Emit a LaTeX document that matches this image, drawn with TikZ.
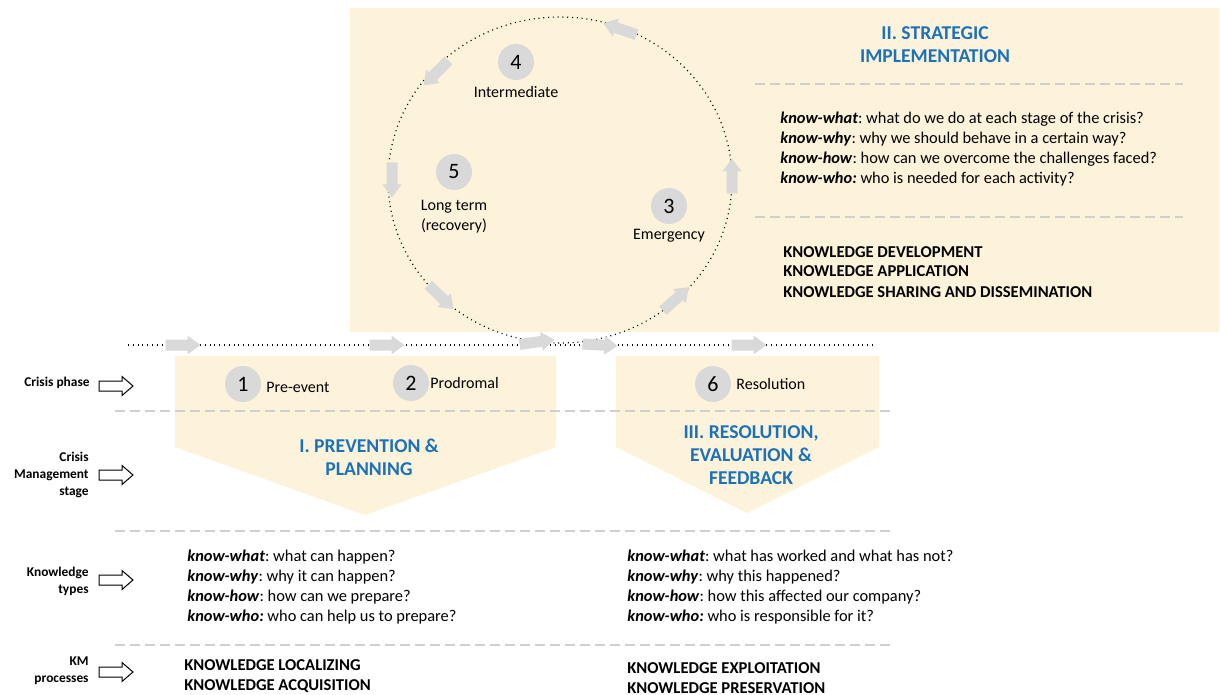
\documentclass[tikz,border=0pt]{standalone}
\usepackage{fontspec}
\setmainfont{Carlito}
\frenchspacing
\definecolor{beige}{HTML}{FDF3DA}
\definecolor{cgray}{HTML}{D9D9D9}
\definecolor{agray}{HTML}{D9D9D9}
\definecolor{dgray}{HTML}{CFCFCF}
\definecolor{tblue}{HTML}{1B72BA}
\tikzset{
  num/.style={circle, fill=cgray, minimum size=18pt, inner sep=0pt, font=\fontsize{11}{12}\selectfont},
  plbl/.style={anchor=west, inner sep=0pt, font=\fontsize{8}{10}\selectfont},
  clbl/.style={align=center, inner sep=0pt, font=\fontsize{8}{10}\selectfont},
  body/.style={anchor=base west, inner sep=0pt, font=\fontsize{8.2}{10}\selectfont},
  caps/.style={anchor=base west, inner sep=0pt, font=\fontsize{8.3}{10}\selectfont\bfseries},
  ttl/.style={align=center, inner sep=0pt, text=tblue, font=\fontsize{9.8}{11.5}\selectfont\bfseries},
  side/.style={align=right, anchor=east, inner sep=0pt, font=\fontsize{6.7}{8.5}\selectfont\bfseries},
  dots/.style={line width=0.6pt, dash pattern=on 0.5pt off 1.9pt},
  gdash/.style={dgray, line width=0.6pt, dash pattern=on 5pt off 2.5pt},
  pics/blk/.style={code={\fill[agray] (-17.5,-5.5) -- (4.5,-5.5) -- (4.5,-9.5) -- (17.5,0) -- (4.5,9.5) -- (4.5,5.5) -- (-17.5,5.5) -- cycle;}},
  pics/outarr/.style={code={\draw[line width=0.5pt, fill=white] (-17,-5) -- (6,-5) -- (6,-9.5) -- (17,0) -- (6,9.5) -- (6,5) -- (-17,5) -- cycle;}}
}
\begin{document}
\begin{tikzpicture}[x=0.5pt,y=-0.5pt]
\useasboundingbox (0,0) rectangle (1220,695);
% backgrounds
\fill[beige] (350,8) rectangle (1219,332);
\fill[beige] (175,356) -- (556,356) -- (556,447) -- (365,515) -- (175,447) -- cycle;
\fill[beige] (616,356) -- (879,356) -- (879,447) -- (747,513) -- (616,447) -- cycle;
% dashed separators
\coordinate (d1a) at (115,411); \coordinate (d1b) at (892,411);
\coordinate (d2a) at (115,531); \coordinate (d2b) at (892,531);
\coordinate (d3a) at (115,645); \coordinate (d3b) at (892,645);
\coordinate (r1a) at (755,84);  \coordinate (r1b) at (1183,84);
\coordinate (r2a) at (755,217); \coordinate (r2b) at (1183,217);
\draw[gdash] (d1a) -- (d1b);
\draw[gdash] (d2a) -- (d2b);
\draw[gdash] (d3a) -- (d3b);
\draw[gdash] (r1a) -- (r1b);
\draw[gdash] (r2a) -- (r2b);
% cycle and timeline
\draw[dots] (560,180) ellipse [x radius=172, y radius=163];
\coordinate (tl0) at (128,345); \coordinate (tl1) at (876,345);
\draw[dots] (tl0) -- (tl1);
% arrows on circle
\pic[rotate=161] at (620,29) {blk};
\pic[rotate=225] at (436,73) {blk};
\pic[rotate=270] at (392,180) {blk};
\pic[rotate=316] at (441,297) {blk};
\pic[rotate=42] at (676,299) {blk};
\pic[rotate=90] at (732,176) {blk};
% arrows on timeline
\pic at (183,345) {blk};
\pic at (387,345) {blk};
\pic[rotate=8] at (537,342) {blk};
\pic[rotate=-3] at (600,345) {blk};
\pic at (749,345) {blk};
% circle phases
\node[num] (n4) at (516,62) {4};
\node[clbl] (t4) at (516,92) {Intermediate};
\node[num] (n5) at (454,172) {5};
\node[clbl] (t5) at (454,217) {Long term\\(recovery)};
\node[num] (n3) at (669,206) {3};
\node[clbl] (t3) at (669,236) {Emergency};
% strategic implementation
\node[ttl] (s2) at (935,45) {II. STRATEGIC\\IMPLEMENTATION};
\node[body] (sk1) at (780,124) {\textbf{\textit{know-what}}: what do we do at each stage of the crisis?};
\node[body] (sk2) at (780,144) {\textbf{\textit{know-why}}: why we should behave in a certain way?};
\node[body] (sk3) at (780,164) {\textbf{\textit{know-how}}: how can we overcome the challenges faced?};
\node[body] (sk4) at (780,184) {\textbf{\textit{know-who:}} who is needed for each activity?};
\node[caps] (sp1) at (783,257) {KNOWLEDGE DEVELOPMENT};
\node[caps] (sp2) at (783,277) {KNOWLEDGE APPLICATION};
\node[caps] (sp3) at (783,297) {KNOWLEDGE SHARING AND DISSEMINATION};
% bottom phases
\node[num] (n1) at (243,384) {1};
\node[plbl] (t1) at (266,387) {Pre-event};
\node[num] (n2) at (411,383) {2};
\node[plbl] (t2) at (430,383) {Prodromal};
\node[num] (n6) at (713,384) {6};
\node[plbl] (t6) at (736,384) {Resolution};
\node[ttl] (s1) at (369,457) {I. PREVENTION \&\\PLANNING};
\node[ttl] (s3) at (751,455) {III. RESOLUTION,\\EVALUATION \&\\FEEDBACK};
% knowledge types
\node[body] (lk1) at (187,561) {\textbf{\textit{know-what}}: what can happen?};
\node[body] (lk2) at (187,581) {\textbf{\textit{know-why}}: why it can happen?};
\node[body] (lk3) at (187,601) {\textbf{\textit{know-how}}: how can we prepare?};
\node[body] (lk4) at (187,621) {\textbf{\textit{know-who:}} who can help us to prepare?};
\node[body] (rk1) at (627,561) {\textbf{\textit{know-what}}: what has worked and what has not?};
\node[body] (rk2) at (627,581) {\textbf{\textit{know-why}}: why this happened?};
\node[body] (rk3) at (627,601) {\textbf{\textit{know-how}}: how this affected our company?};
\node[body] (rk4) at (627,621) {\textbf{\textit{know-who:}} who is responsible for it?};
% KM processes
\node[caps] (lp1) at (184,670) {KNOWLEDGE LOCALIZING};
\node[caps] (lp2) at (184,690) {KNOWLEDGE ACQUISITION};
\node[caps] (rp1) at (627,673) {KNOWLEDGE EXPLOITATION};
\node[caps] (rp2) at (627,693) {KNOWLEDGE PRESERVATION};
% side labels
\node[side] (l1) at (90,383) {Crisis phase};
\node[side] (l2) at (89,475) {Crisis\\Management\\stage};
\node[side] (l3) at (89,581) {Knowledge\\types};
\node[side] (l4) at (89,671) {KM\\processes};
\pic at (116,386) {outarr};
\pic at (116,475) {outarr};
\pic at (116,580) {outarr};
\pic at (116,672) {outarr};
\end{tikzpicture}
\end{document}
